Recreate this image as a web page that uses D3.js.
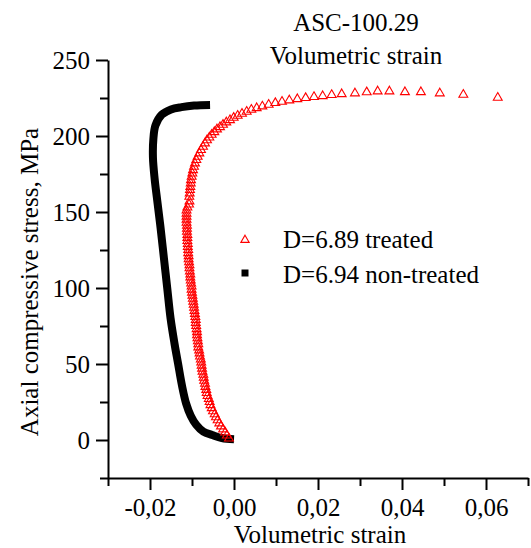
<!DOCTYPE html>
<html>
<head>
<meta charset="utf-8">
<script src="https://cdn.jsdelivr.net/npm/d3@7"></script>
<style>
  html, body { margin: 0; padding: 0; background: #fff; }
  svg { display: block; }
  text { font-family: "Liberation Serif", "Times New Roman", serif; fill: #000; }
</style>
</head>
<body>
<svg id="chart" width="531" height="548"></svg>
<script>
// Sample D=6.89, treated: volumetric strain and axial stress (MPa)
const treatedStress = [
  1, 3, 5, 7, 9, 11, 13, 15, 17, 19, 21, 23, 25, 27, 29, 31, 33, 35, 37, 39,
  41, 43, 45, 47, 49, 51, 53, 55, 57, 59, 61, 63, 65, 67, 69, 71, 73, 75, 77, 79,
  81, 83, 85, 87, 89, 91, 93, 95, 97, 99, 101, 103, 105, 107, 109, 111, 113, 115, 117, 119,
  121, 123, 125, 127, 129, 131, 133, 135, 137, 139, 141, 143, 145, 147, 149, 151, 153, 155, 157,
  160.1, 162.3, 164.5, 166.6, 168.9, 171.0, 173.2, 175.4, 177.6, 179.8,
  182.0, 184.2, 186.4, 188.6, 190.8, 193.0, 195.2, 197.2, 199.1, 200.9,
  202.6, 204.4, 205.9, 207.4, 209.0, 210.5, 212.0, 213.4, 214.7, 216.0,
  217.3, 218.4, 219.5, 220.6, 221.7, 222.6, 223.5, 224.3, 225.0, 225.7,
  226.3, 227.0, 227.6, 228.1, 228.8, 229.4, 229.4, 228.9, 228.9, 228.1,
  227.2, 225.2
];
const treatedStrain = [
  -0.0012, -0.0017, -0.0021, -0.0026, -0.0031, -0.0035, -0.0039, -0.0043, -0.0046, -0.0050,
  -0.0053, -0.0056, -0.0058, -0.0060, -0.0063, -0.0065, -0.0066, -0.0068, -0.0069, -0.0071,
  -0.0072, -0.0073, -0.0075, -0.0076, -0.0077, -0.0078, -0.0079, -0.0081, -0.0082, -0.0083,
  -0.0085, -0.0085, -0.0086, -0.0087, -0.0088, -0.0088, -0.0089, -0.0090, -0.0091, -0.0091,
  -0.0092, -0.0093, -0.0094, -0.0095, -0.0096, -0.0097, -0.0098, -0.0099, -0.0100, -0.0101,
  -0.0101, -0.0102, -0.0103, -0.0104, -0.0104, -0.0105, -0.0106, -0.0106, -0.0107, -0.0108,
  -0.0108, -0.0109, -0.0109, -0.0110, -0.0110, -0.0111, -0.0111, -0.0111, -0.0112, -0.0112,
  -0.0112, -0.0113, -0.0113, -0.0113, -0.0113, -0.0113, -0.0111, -0.0107, -0.0106,
  -0.01064, -0.01055, -0.01048, -0.0104, -0.0103, -0.01024, -0.01008, -0.00992, -0.00976, -0.00952,
  -0.00929, -0.00897, -0.00865, -0.00825, -0.00786, -0.00738, -0.0069, -0.00643, -0.00587, -0.00532,
  -0.00468, -0.00405, -0.00333, -0.00262, -0.00183, -0.00095, -0.00008, 0.00087, 0.0019, 0.00302,
  0.00413, 0.0054, 0.00675, 0.00825, 0.00984, 0.01143, 0.01317, 0.01508, 0.01706, 0.01905,
  0.02111, 0.02326, 0.02564, 0.0288, 0.0316, 0.0342, 0.0370, 0.0407, 0.0445, 0.0490,
  0.0546, 0.0628
];

// Sample D=6.94, non-treated
const nonTreatedStrain = [
  0.0000, -0.0029, -0.0052, -0.0073, -0.0090, -0.0103, -0.0114, -0.0124, -0.0133, -0.0142,
  -0.0151, -0.0159, -0.0167, -0.0175, -0.0183, -0.0189, -0.0193, -0.0192, -0.0187, -0.0172,
  -0.0150, -0.0125, -0.0095, -0.0057
];
const nonTreatedStress = [
  0.5, 1.3, 3.3, 5.5, 10, 16, 24, 36, 50, 64,
  80, 100, 120, 140, 158, 172, 186, 198, 207, 214,
  217.5, 219, 220, 220.4
];

// Axis ticks and text
const xTickValues = [-0.03, -0.02, -0.01, 0.00, 0.01, 0.02, 0.03, 0.04, 0.05, 0.06, 0.07];
const xTickLabels = ["", "-0,02", "", "0,00", "", "0,02", "", "0,04", "", "0,06", ""];
const yTickValues = [-25, 0, 25, 50, 75, 100, 125, 150, 175, 200, 225, 250];
const yTickLabels = ["", "0", "", "50", "", "100", "", "150", "", "200", "", "250"];
const titleLines = ["ASC-100.29", "Volumetric strain"];
const xAxisTitle = "Volumetric strain";
const yAxisTitle = "Axial compressive stress, MPa";
const legendLabels = ["D=6.89 treated", "D=6.94 non-treated"];

const svg = d3.select("#chart");
const plotLeft = 108, plotRight = 528, plotTop = 60, plotBottom = 478;

const x = d3.scaleLinear().domain([-0.03, 0.07]).range([plotLeft, plotRight]);
const y = d3.scaleLinear().domain([-25, 250]).range([plotBottom, plotTop]);

const FONT = 25;

// Axes: major ticks carry labels and are longer than minor ones
function styleAxis(g, labels, vertical) {
  g.select(".domain").attr("stroke", "#000").attr("stroke-width", 2);
  g.selectAll(".tick line")
    .attr("stroke", "#000")
    .attr("stroke-width", 2)
    .each(function(d, i) {
      const len = labels[i] ? 12 : 8;
      d3.select(this).attr(vertical ? "x2" : "y2", vertical ? -len : len);
    });
  g.selectAll(".tick text").attr("font-size", FONT).attr("font-family", "Liberation Serif");
}

const xAxis = d3.axisBottom(x)
  .tickValues(xTickValues)
  .tickSize(12)
  .tickSizeOuter(0)
  .tickPadding(8)
  .tickFormat((d, i) => xTickLabels[i]);
const gx = svg.append("g").attr("transform", `translate(0,${plotBottom})`).call(xAxis);
styleAxis(gx, xTickLabels, false);

const yAxis = d3.axisLeft(y)
  .tickValues(yTickValues)
  .tickSize(12)
  .tickSizeOuter(0)
  .tickPadding(6)
  .tickFormat((d, i) => yTickLabels[i]);
const gy = svg.append("g").attr("transform", `translate(${plotLeft},0)`).call(yAxis);
styleAxis(gy, yTickLabels, true);

// Axis titles
svg.append("text")
  .attr("x", 320).attr("y", 543)
  .attr("text-anchor", "middle")
  .attr("font-size", FONT)
  .text(xAxisTitle);

svg.append("text")
  .attr("transform", "translate(38,282) rotate(-90)")
  .attr("text-anchor", "middle")
  .attr("font-size", FONT)
  .text(yAxisTitle);

// Chart title, two lines
svg.append("text")
  .attr("x", 356).attr("y", 31)
  .attr("text-anchor", "middle")
  .attr("font-size", FONT)
  .text(titleLines[0]);
svg.append("text")
  .attr("x", 356).attr("y", 64)
  .attr("text-anchor", "middle")
  .attr("font-size", FONT)
  .text(titleLines[1]);

// Non-treated series: densely packed square markers, drawn as a thick band
const nonTreated = nonTreatedStrain.map((s, i) => [s, nonTreatedStress[i]]);
svg.append("path")
  .datum(nonTreated)
  .attr("fill", "none")
  .attr("stroke", "#000")
  .attr("stroke-width", 8)
  .attr("stroke-linecap", "butt")
  .attr("stroke-linejoin", "round")
  .attr("d", d3.line().x(d => x(d[0])).y(d => y(d[1])).curve(d3.curveCatmullRom.alpha(0.5)));

// Treated series: open red triangles
const treated = treatedStrain.map((s, i) => [s, treatedStress[i]]);
const tri = d3.symbol().type(d3.symbolTriangle).size(34);
svg.append("g")
  .selectAll("path")
  .data(treated)
  .join("path")
  .attr("transform", d => `translate(${x(d[0])},${y(d[1])})`)
  .attr("d", tri)
  .attr("fill", "none")
  .attr("stroke", "#ff0000")
  .attr("stroke-width", 1.1);

// Legend
const legend = svg.append("g");
legend.append("path")
  .attr("transform", "translate(245,240)")
  .attr("d", d3.symbol().type(d3.symbolTriangle).size(30))
  .attr("fill", "none")
  .attr("stroke", "#ff0000")
  .attr("stroke-width", 1.1);
legend.append("path")
  .attr("transform", "translate(245,273)")
  .attr("d", d3.symbol().type(d3.symbolSquare).size(49))
  .attr("fill", "#000");
legend.append("text")
  .attr("x", 283).attr("y", 248)
  .attr("font-size", FONT)
  .text(legendLabels[0]);
legend.append("text")
  .attr("x", 283).attr("y", 283)
  .attr("font-size", FONT)
  .text(legendLabels[1]);
</script>
</body>
</html>
